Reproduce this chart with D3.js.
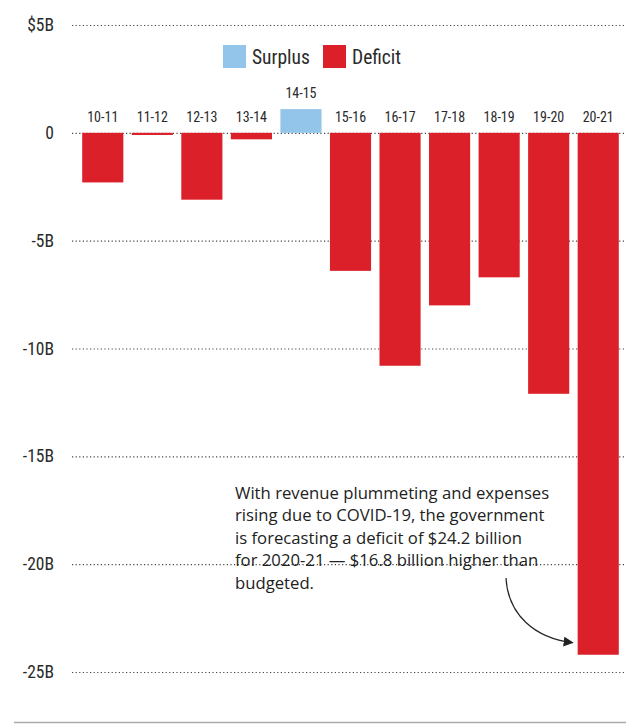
<!DOCTYPE html>
<html>
<head>
<meta charset="utf-8">
<script src="https://cdn.jsdelivr.net/npm/d3@7"></script>
<style>
  body { margin: 0; background: #fff; }
  .cond { font-family: "Liberation Sans Narrow", "Roboto Condensed", "Arial Narrow", sans-serif; }
</style>
</head>
<body>
<div id="chart"></div>
<script>
const years = ["10-11","11-12","12-13","13-14","14-15","15-16","16-17","17-18","18-19","19-20","20-21"]
const balance = [-2.3, -0.1, -3.1, -0.3, 1.1, -6.4, -10.8, -8.0, -6.7, -12.1, -24.2]
const ticks = [5, 0, -5, -10, -15, -20, -25]
const tickLabels = ["$5B", "0", "-5B", "-10B", "-15B", "-20B", "-25B"]
const legendNames = ["Surplus", "Deficit"]
const noteLines = [
    "With revenue plummeting and expenses",
    "rising due to COVID-19, the government",
    "is forecasting a deficit of $24.2 billion",
    "for 2020-21 \u2014 $16.8 billion higher than",
    "budgeted."
]

var width = 626, height = 726
const red = "#dc2029", blue = "#93c4e9"
const svg = d3.select('#chart').append("svg").attr("width", width).attr("height", height)

const x = d3.scaleBand().domain(years).range([78, 623]).paddingInner(0.17).paddingOuter(0.085)
const y = d3.scaleLinear().domain([-25, 5]).range([672, 25])

// grid
svg.selectAll('.grid')
    .data(ticks).enter()
    .append('line')
    .attr('x1', 72).attr('x2', 626)
    .attr('y1', d => y(d) + 0.5).attr('y2', d => y(d) + 0.5)
    .attr('stroke', '#444').attr('stroke-width', 1.1)
    .attr('stroke-dasharray', '1.2,2.4')

svg.selectAll('.tick')
    .data(ticks).enter()
    .append('text')
    .attr('class', 'cond')
    .attr('x', 54).attr('y', d => y(d) + 6)
    .attr('text-anchor', 'end')
    .attr('font-size', 17.5).attr('fill', '#2a2a2a')
    .text((d, i) => tickLabels[i])

// bars
svg.selectAll('.bar')
    .data(balance).enter()
    .append('rect')
    .attr('x', (d, i) => x(years[i]))
    .attr('width', x.bandwidth())
    .attr('y', d => y(Math.max(0, d)))
    .attr('height', d => Math.abs(y(d) - y(0)))
    .attr('fill', d => d > 0 ? blue : red)

svg.selectAll('.yr')
    .data(balance).enter()
    .append('text')
    .attr('class', 'cond')
    .attr('x', (d, i) => x(years[i]) + x.bandwidth() / 2)
    .attr('y', d => y(Math.max(0, d)) - 11)
    .attr('text-anchor', 'middle')
    .attr('font-size', 14).attr('fill', '#2a2a2a')
    .text((d, i) => years[i])

// legend
const lg = svg.append('g')
legendNames.forEach((n, i) => {
    const lx = 223 + i * 100
    lg.append('rect').attr('x', lx).attr('y', 45).attr('width', 23).attr('height', 23)
        .attr('fill', i == 0 ? blue : red)
    lg.append('text').attr('class', 'cond').attr('x', lx + 29).attr('y', 64)
        .attr('font-size', 19.5).attr('fill', '#2a2a2a').text(n)
})

// annotation
svg.append('g').selectAll('text')
    .data(noteLines).enter()
    .append('text')
    .attr('x', 235).attr('y', (d, i) => 499 + i * 22.4)
    .attr('font-family', '"Open Sans", sans-serif')
    .attr('font-size', 16.7).attr('fill', '#222')
    .text(d => d)

svg.append('defs').append('marker')
    .attr('id', 'arr').attr('viewBox', '0 0 10 10')
    .attr('refX', 9).attr('refY', 5)
    .attr('markerWidth', 10).attr('markerHeight', 10)
    .attr('markerUnits', 'userSpaceOnUse')
    .attr('orient', 'auto')
    .append('path').attr('d', 'M0,0L10,5L0,10z').attr('fill', '#222')

const last = years.length - 1
const ax = x(years[last]) - 5, ay = y(balance[last]) - 12
svg.append('path')
    .attr('d', `M506,578 C508,615 535,638 ${ax},${ay}`)
    .attr('fill', 'none').attr('stroke', '#222').attr('stroke-width', 1.2)
    .attr('marker-end', 'url(#arr)')

// bottom rule
svg.append('line').attr('x1', 14).attr('x2', 626).attr('y1', 722.5).attr('y2', 722.5)
    .attr('stroke', '#aaa').attr('stroke-width', 1.5)
</script>
</body>
</html>
